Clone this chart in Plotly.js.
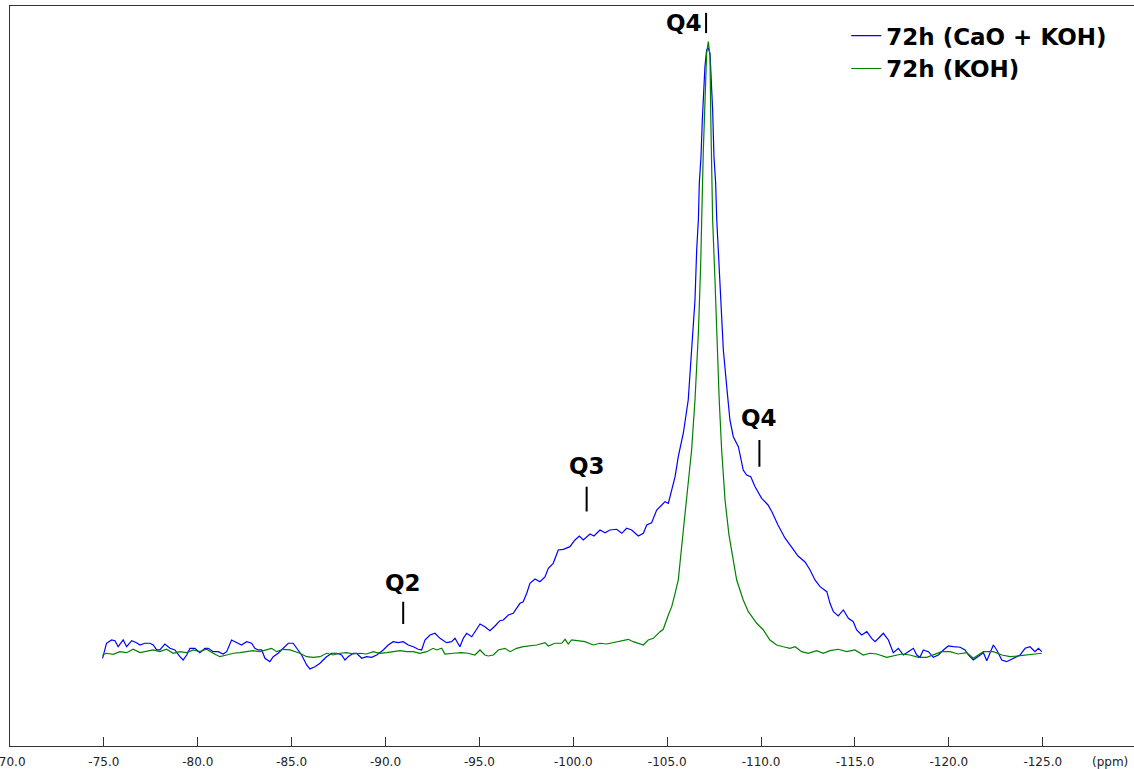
<!DOCTYPE html>
<html>
<head>
<meta charset="utf-8">
<script src="https://cdn.plot.ly/plotly-3.0.1.min.js"></script>
<style>
  html, body { margin: 0; padding: 0; background: #fff; }
  #chart { width: 1134px; height: 769px; }
</style>
</head>
<body>
<div id="chart"></div>
<script>
// ---- Data (chemical shift in ppm, intensity in arbitrary units) ----
const seriesNames = ["72h (CaO + KOH)", "72h (KOH)"];

const blueX = [-74.93,-75.14,-75.41,-75.59,-75.76,-76.03,-76.21,-76.48,-76.74,-76.92,-77.18,-77.45,-77.63,-77.81,-77.98,-78.25,-78.52,-78.78,-79.05,-79.22,-79.41,-79.58,-79.85,-80.11,-80.38,-80.56,-80.82,-81.09,-81.35,-81.54,-81.80,-82.07,-82.33,-82.60,-82.87,-83.04,-83.22,-83.40,-83.58,-83.84,-84.02,-84.28,-84.55,-84.82,-85.08,-85.26,-85.53,-85.80,-85.97,-86.24,-86.51,-86.68,-86.86,-87.13,-87.40,-87.66,-87.84,-88.01,-88.28,-88.46,-88.73,-88.99,-89.26,-89.53,-89.88,-90.14,-90.41,-90.68,-90.94,-91.21,-91.48,-91.74,-91.92,-92.10,-92.37,-92.63,-92.90,-93.25,-93.52,-93.70,-93.96,-94.14,-94.32,-94.59,-94.85,-95.03,-95.29,-95.56,-95.83,-96.09,-96.27,-96.54,-96.80,-96.98,-97.16,-97.33,-97.52,-97.69,-97.96,-98.22,-98.49,-98.67,-98.93,-99.20,-99.47,-99.82,-100.09,-100.32,-100.53,-100.89,-101.10,-101.42,-101.69,-101.95,-102.31,-102.58,-102.84,-103.11,-103.46,-103.73,-103.91,-104.17,-104.44,-104.71,-104.88,-105.06,-105.24,-105.42,-105.59,-105.77,-105.86,-106.12,-106.30,-106.48,-106.57,-106.66,-106.71,-106.80,-106.87,-106.92,-107.01,-107.10,-107.19,-107.28,-107.37,-107.42,-107.49,-107.58,-107.64,-107.72,-107.85,-107.99,-108.17,-108.34,-108.52,-108.79,-109.05,-109.23,-109.45,-109.68,-110.03,-110.37,-110.58,-110.90,-111.27,-111.65,-111.97,-112.34,-112.61,-112.87,-113.14,-113.50,-113.67,-113.85,-114.11,-114.38,-114.65,-114.91,-115.09,-115.36,-115.63,-115.89,-116.07,-116.33,-116.51,-116.78,-117.04,-117.31,-117.58,-117.84,-118.11,-118.29,-118.46,-118.64,-118.91,-119.17,-119.44,-119.71,-119.97,-120.24,-120.60,-120.86,-121.04,-121.30,-121.57,-121.84,-122.02,-122.19,-122.37,-122.55,-122.82,-123.08,-123.43,-123.79,-124.06,-124.32,-124.59,-124.77,-124.95];
const blueY = [-0.54,1.91,2.45,2.33,1.35,2.45,1.35,2.33,2.01,1.63,1.91,1.91,1.63,0.82,0.82,1.79,1.09,0.82,-0.28,-0.82,0,1.09,1.09,0.38,1.09,1.09,0.54,0.54,0.16,0.54,2.45,2.01,1.63,2.17,1.91,1.09,0.82,0.82,-0.54,-1.09,-0.28,0.28,1.09,1.91,1.91,1.09,0,-1.63,-2.28,-1.91,-1.35,-0.82,-0.28,0.28,0.28,0,-0.82,-0.28,0.28,0.28,-0.54,-0.28,-0.38,0,0.82,1.63,2.17,2.01,2.17,1.63,1.35,0.93,0.82,2.45,3.26,3.54,2.72,2.01,2.17,2.72,1.35,2.72,3.54,2.98,4.08,5.05,4.61,3.96,4.73,5.59,5.71,6.52,6.80,7.61,8.43,8.69,10.06,11.69,12.39,11.95,12.72,14.14,14.95,17.12,17.23,17.66,18.75,19.40,18.75,19.73,19.40,20.38,19.94,20.38,20.50,19.84,20.66,20.38,19.40,19.84,21.20,21.57,23.64,24.46,25.00,24.73,26.90,29.07,32.33,35.06,36.20,41.58,49.73,57.88,66.04,70.93,76.91,81.25,87.23,91.03,95.92,98.65,98.97,98.11,93.48,88.86,81.25,76.91,70.93,66.04,57.88,49.73,43.75,38.32,35.59,33.96,30.16,29.35,29.07,27.44,25.55,24.46,23.32,21.20,19.08,17.45,16.14,15.16,13.86,12.23,11.14,10.32,8.43,7.06,6.36,7.34,5.98,5.43,4.08,3.26,3.80,2.72,2.17,2.98,3.54,2.45,0.38,1.09,0,0.54,1.09,0,-0.38,0.82,0.54,-0.38,0,0.82,1.47,1.35,1.26,0.82,0,-0.82,-0.16,0.38,-0.93,0.28,1.63,0.82,-0.82,-1.09,-0.54,0,1.09,1.35,0.54,1.09,0.54];

const greenX = [-74.93,-75.14,-75.50,-75.85,-76.21,-76.56,-76.92,-77.27,-77.63,-77.98,-78.34,-78.69,-79.05,-79.41,-79.76,-80.11,-80.47,-80.82,-81.18,-81.54,-81.89,-82.24,-82.60,-82.95,-83.31,-83.67,-83.93,-84.20,-84.55,-84.91,-85.17,-85.44,-85.80,-86.15,-86.51,-86.86,-87.21,-87.57,-87.93,-88.28,-88.64,-88.99,-89.34,-89.70,-90.06,-90.41,-90.77,-91.12,-91.48,-91.83,-92.19,-92.54,-92.72,-92.99,-93.16,-93.61,-94.05,-94.40,-94.76,-95.03,-95.29,-95.47,-95.74,-96.00,-96.36,-96.63,-96.98,-97.33,-97.69,-98.05,-98.49,-98.67,-99.02,-99.38,-99.56,-99.73,-99.91,-100.26,-100.62,-101.06,-101.42,-101.78,-102.13,-102.49,-102.93,-103.19,-103.46,-103.73,-103.99,-104.26,-104.62,-104.79,-105.06,-105.24,-105.42,-105.59,-105.86,-106.04,-106.30,-106.48,-106.66,-106.78,-106.84,-106.92,-107.01,-107.10,-107.19,-107.28,-107.32,-107.37,-107.42,-107.55,-107.64,-107.77,-107.90,-108.08,-108.29,-108.50,-108.70,-109.05,-109.32,-109.77,-110.12,-110.47,-110.83,-111.18,-111.54,-111.81,-112.16,-112.51,-112.96,-113.31,-113.67,-114.11,-114.56,-115.00,-115.44,-115.80,-116.16,-116.69,-117.04,-117.49,-117.93,-118.37,-118.82,-119.17,-119.62,-120.06,-120.50,-120.95,-121.30,-121.84,-122.37,-122.82,-123.26,-123.70,-124.15,-124.59,-124.95];
const greenY = [0,0.28,0.11,0.54,0.38,0.93,0.38,0.54,0.82,0.54,0.93,0.28,0.54,0.38,0.82,0.54,0.93,0.28,-0.28,0,0.28,0.38,0.54,0.70,0.54,0.82,1.09,0.54,0.93,0.82,0.54,0.28,-0.28,-0.38,-0.28,0.28,0,0.28,0.38,0.16,0.28,0.16,0.54,0.28,0.38,0.54,0.70,0.54,0.54,0.28,0.54,1.09,0.82,1.09,0.16,0.28,0.38,0.28,0,0.82,0,-0.16,0,0.82,1.09,0.54,1.09,1.35,1.47,1.63,2.01,1.47,1.91,1.91,2.56,1.79,2.45,2.33,2.17,1.63,1.91,1.79,2.01,2.17,2.56,2.17,1.91,1.63,2.45,2.72,3.80,4.19,6.52,7.88,10.06,12.23,20.38,25.81,33.43,41.58,52.50,63.31,73.10,81.85,90.00,98.11,100,97.55,87.77,80.71,70.93,60.66,52.50,41.58,33.43,25.27,19.57,15.49,12.23,8.97,7.06,5.17,4.08,2.45,1.63,1.35,1.09,1.35,0.54,0.28,0.70,0.28,0.70,0.93,0.54,0.82,0,0.28,0.16,-0.38,-0.16,0.16,0,-0.38,-0.38,0,0.54,0.54,0.16,0.38,-0.54,0.54,0.54,0,-0.28,-0.16,0,0.16,0.28];

const tickValues = [-70,-75,-80,-85,-90,-95,-100,-105,-110,-115,-120,-125];
const tickLabels = ["-70.0","-75.0","-80.0","-85.0","-90.0","-95.0","-100.0","-105.0","-110.0","-115.0","-120.0","-125.0"];

// Peak assignment labels: text, marker position (ppm), bar bottom/top, text position
const peakLabels = ["Q4", "Q4", "Q3", "Q2"];
const peakPpm    = [-107.07, -109.91, -100.71, -90.94];
const barLow     = [101.4, 30.7, 23.4, 5.05];
const barHigh    = [104.7, 35.06, 27.44, 8.69];
const textPpm    = [-107.0, -109.89, -100.71, -90.94];
const textY      = [103.05, 38.64, 30.82, 11.74];
const textAnchor = ["right", "center", "center", "center"];

// ---- Figure ----
const traces = [
  { x: blueX, y: blueY, type: "scatter", mode: "lines", name: seriesNames[0],
    line: { color: "rgb(0,0,255)", width: 1.2 } },
  { x: greenX, y: greenY, type: "scatter", mode: "lines", name: seriesNames[1],
    line: { color: "rgb(0,128,0)", width: 1.2 } }
];

const shapes = peakPpm.map((p, i) => ({
  type: "line", xref: "x", yref: "y",
  x0: p, x1: p, y0: barLow[i], y1: barHigh[i],
  line: { color: "#000", width: 2 }
}));

const annotations = peakLabels.map((t, i) => ({
  text: t, xref: "x", yref: "y", x: textPpm[i], y: textY[i],
  xanchor: textAnchor[i], yanchor: "middle", showarrow: false,
  xshift: i === 0 ? -1 : 0,
  font: { family: "DejaVu Sans, Arial, sans-serif", size: 23, color: "#000", weight: "bold" }
}));
annotations.push({
  text: "(ppm)", xref: "paper", yref: "paper", x: 0.9786, y: -0.0216,
  xanchor: "center", yanchor: "middle", showarrow: false,
  font: { family: "DejaVu Sans, Arial, sans-serif", size: 12, color: "#222" }
});

const layout = {
  width: 1134, height: 769,
  margin: { l: 10, r: 0, t: 6, b: 23, pad: 0 },
  paper_bgcolor: "#fff", plot_bgcolor: "#fff",
  showlegend: true,
  legend: {
    x: 0.744, y: 0.989, xanchor: "left", yanchor: "top",
    bgcolor: "rgba(0,0,0,0)", borderwidth: 0,
    font: { family: "DejaVu Sans, Arial, sans-serif", size: 23, color: "#000", weight: "bold" }
  },
  xaxis: {
    range: [-70, -129.86], showgrid: false, zeroline: false,
    showline: true, linecolor: "#333", linewidth: 1, mirror: true,
    ticks: "inside", ticklen: 9, tickwidth: 1, tickcolor: "#333",
    tickmode: "array", tickvals: tickValues, ticktext: tickLabels,
    ticklabeloverflow: "allow", ticklabelstandoff: 5,
    tickfont: { family: "DejaVu Sans, Arial, sans-serif", size: 12, color: "#222" }
  },
  yaxis: {
    range: [-14.84, 105.82], showgrid: false, zeroline: false,
    showline: true, linecolor: "#333", linewidth: 1,
    ticks: "", showticklabels: false
  },
  shapes: shapes,
  annotations: annotations
};

Plotly.newPlot("chart", traces, layout, { displayModeBar: false, staticPlot: true });
</script>
</body>
</html>
